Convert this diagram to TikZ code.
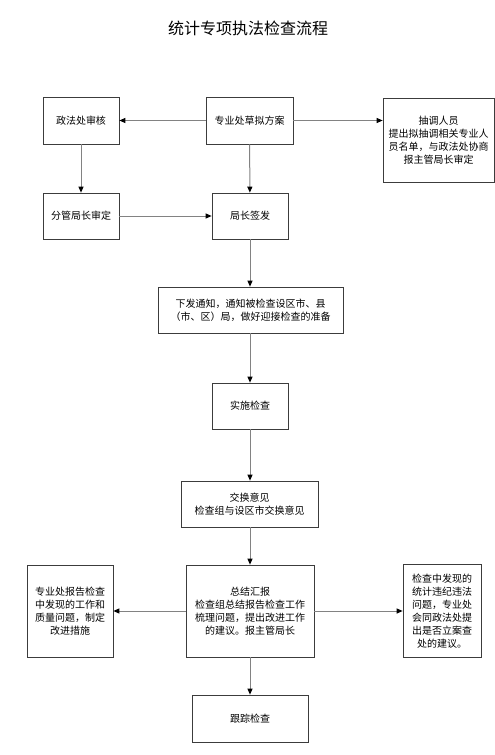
\documentclass[tikz,border=0pt]{standalone}
\usepackage{fontspec}
\newfontfamily\cjk{Noto Sans CJK SC}
\usetikzlibrary{arrows.meta,positioning}
\definecolor{flowline}{RGB}{130,130,130}
\definecolor{boxline}{RGB}{60,60,60}

\begin{document}
\begin{tikzpicture}[x=1pt,y=-1pt,
  stepbox/.style={draw=boxline, line width=0.7pt, inner sep=2pt,
                  font=\cjk\fontsize{10}{13}\selectfont, align=center},
  arr/.style={-{Triangle[length=6pt,width=5pt,color=black]}, draw=flowline, line width=1pt}
]
\useasboundingbox (0,0) rectangle (495,755);
\node[font=\cjk\fontsize{16}{18}\selectfont] (title) at (248,28) {统计专项执法检查流程};

% top rows
\node[stepbox, minimum width=87pt, minimum height=47pt] (draft) at (249.5,120.5) {专业处草拟方案};
\node[stepbox, minimum width=76pt, minimum height=47pt] (review) at (81,120.5) {政法处审核};
\node[stepbox, minimum width=111pt, minimum height=84pt] (transfer) at (438.5,140)
  {抽调人员\\提出拟抽调相关专业人\\员名单，与政法处协商\\报主管局长审定};
\node[stepbox, minimum width=76pt, minimum height=46pt] (approve) at (81,216) {分管局长审定};
\node[stepbox, minimum width=76pt, minimum height=46pt] (sign) at (250,216) {局长签发};

% main column
\node[stepbox, minimum width=185pt, minimum height=46pt] (notice) at (250.5,310)
  {下发通知，通知被检查设区市、县\\（市、区）局，做好迎接检查的准备};
\node[stepbox, minimum width=76pt, minimum height=46pt] (impl) at (250,406) {实施检查};
\node[stepbox, minimum width=137pt, minimum height=46pt] (exchange) at (249.5,504)
  {交换意见\\检查组与设区市交换意见};
\node[stepbox, minimum width=128pt, minimum height=92pt] (summary) at (250,611)
  {总结汇报\\检查组总结报告检查工作\\梳理问题，提出改进工作\\的建议。报主管局长};
\node[stepbox, minimum width=86pt, minimum height=92pt] (fixup) at (70,611)
  {专业处报告检查\\中发现的工作和\\质量问题，制定\\改进措施};
\node[stepbox, minimum width=78pt, minimum height=93pt] (caseup) at (442,611)
  {检查中发现的\\统计违纪违法\\问题，专业处\\会同政法处提\\出是否立案查\\处的建议。};
\node[stepbox, minimum width=116pt, minimum height=47pt] (track) at (250,718.5) {跟踪检查};

\draw[arr] (draft) -- (review);
\draw[arr] (draft) -- (transfer.west |- draft);
\draw[arr] (review) -- (approve);
\draw[arr] (draft) -- (sign);
\draw[arr] (approve) -- (sign);
\draw[arr] (sign) -- (sign |- notice.north);
\draw[arr] (notice.south -| impl) -- (impl);
\draw[arr] (impl) -- (impl |- exchange.north);
\draw[arr] (exchange.south -| summary) -- (summary);
\draw[arr] (summary) -- (fixup);
\draw[arr] (summary) -- (caseup);
\draw[arr] (summary) -- (track);
\end{tikzpicture}
\end{document}
